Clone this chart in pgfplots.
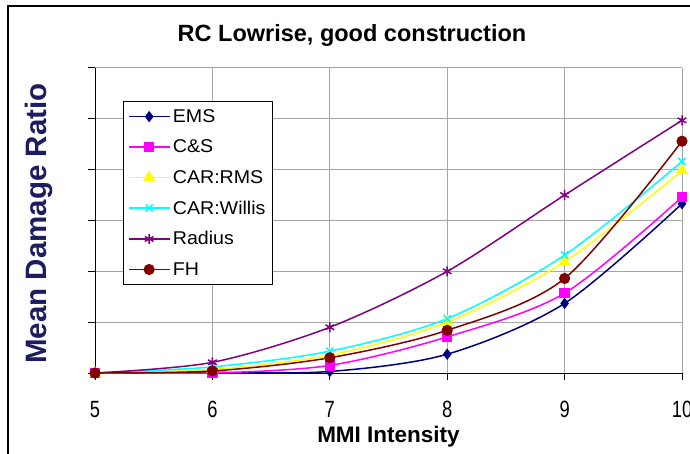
\documentclass[border=0pt]{standalone}
\usepackage{pgfplots}
\pgfplotsset{compat=1.18}
\usepackage{fontspec}
\setmainfont{Liberation Sans}
\newfontfamily\narrowfont{Liberation Sans}[FakeStretch=0.78]
\newfontfamily\widefont{Liberation Sans}[FakeStretch=1.06]
\definecolor{emscol}{RGB}{0,0,128}
\definecolor{cscol}{RGB}{255,0,255}
\definecolor{rmscol}{RGB}{255,255,0}
\definecolor{williscol}{RGB}{0,255,255}
\definecolor{radiuscol}{RGB}{128,0,128}
\definecolor{fhcol}{RGB}{128,0,0}
\definecolor{ylabcol}{RGB}{28,28,96}
\begin{document}
\begin{tikzpicture}
\useasboundingbox (0,0) rectangle (690pt,453pt);
\draw[line width=1.5pt] (8pt,-10pt) -- (8pt,447pt) -- (700pt,447pt);
\begin{axis}[
  at={(95pt,80pt)}, anchor=south west,
  scale only axis, width=587pt, height=305pt,
  xmin=5, xmax=10, ymin=0, ymax=6,
  xtick={5,6,7,8,9,10}, ytick={0,1,2,3,4,5,6},
  yticklabels={},
  axis x line*=bottom, axis y line*=left,
  x axis line style={-, black, line width=1pt},
  y axis line style={-, black, line width=1pt},
  grid=major, grid style={color=gray!70, line width=1pt},
  tick align=outside, major tick length=7pt,
  tick style={black, line width=1pt},
  /pgf/number format/assume math mode=true,
  xticklabel style={font=\narrowfont\fontsize{23.5}{26}\selectfont, anchor=base, yshift=-37pt},
  title={RC Lowrise, good construction},
  title style={font=\bfseries\fontsize{23.5}{26}\selectfont, at={(axis description cs:0.4378,1.0669)}, anchor=base},
  xlabel={MMI Intensity},
  xlabel style={font=\bfseries\fontsize{22.5}{25}\selectfont, at={(axis description cs:0.5,0)}, anchor=base, yshift=-69pt},
  ylabel={Mean Damage Ratio},
  ylabel style={font=\bfseries\fontsize{29.5}{32}\selectfont, color=ylabcol, at={(axis description cs:-0.0954,0.49)}, anchor=center},
  legend style={at={(0.0477,0.892)}, anchor=north west, draw=black, line width=0.8pt,
    font=\widefont\fontsize{18.5}{21}\selectfont, inner xsep=5pt, inner ysep=6pt,
    nodes={inner sep=2pt}, row sep=12pt, column sep=1pt},
  legend cell align=left,
  legend image code/.code={\draw[mark repeat=2,mark phase=2] plot coordinates {(0pt,0pt) (20pt,0pt) (40pt,0pt)};},
]
\addplot[color=emscol, line width=1.5pt, smooth, mark=diamond*, mark size=4.5pt, mark options={solid, fill=emscol}]
  coordinates {(5,0) (6,0.01) (7,0.03) (8,0.37) (9,1.37) (10,3.33)};
\addlegendentry{EMS}
\addplot[color=cscol, line width=1.5pt, smooth, mark=square*, mark size=4.5pt, mark options={solid, fill=cscol}]
  coordinates {(5,0) (6,0.0) (7,0.15) (8,0.71) (9,1.57) (10,3.46)};
\addlegendentry{C\&S}
\addplot[color=rmscol, line width=1.5pt, smooth, mark=triangle*, mark size=5.5pt, mark options={solid, fill=rmscol}]
  coordinates {(5,0) (6,0.07) (7,0.35) (8,1.0) (9,2.19) (10,3.98)};
\addlegendentry{CAR:RMS}
\addplot[color=williscol, line width=1.5pt, smooth, mark=x, mark size=5pt, mark options={solid, line width=1.5pt}]
  coordinates {(5,0) (6,0.12) (7,0.43) (8,1.07) (9,2.32) (10,4.16)};
\addlegendentry{CAR:Willis}
\addplot[color=radiuscol, line width=1.5pt, smooth, mark=asterisk, mark size=5pt, mark options={solid, line width=1.5pt}]
  coordinates {(5,0) (6,0.21) (7,0.9) (8,2.0) (9,3.5) (10,4.97)};
\addlegendentry{Radius}
\addplot[color=fhcol, line width=1.5pt, smooth, mark=*, mark size=4.8pt, mark options={solid, fill=fhcol}]
  coordinates {(5,0) (6,0.04) (7,0.3) (8,0.84) (9,1.86) (10,4.56)};
\addlegendentry{FH}
\end{axis}
\end{tikzpicture}
\end{document}
